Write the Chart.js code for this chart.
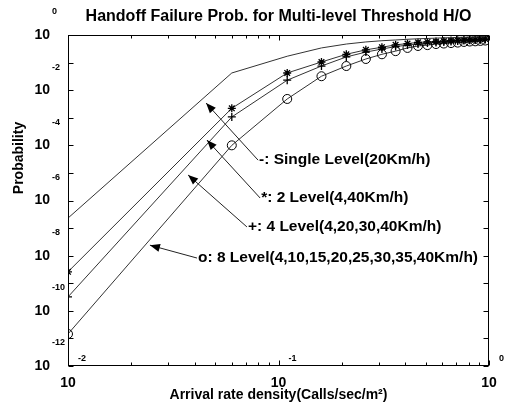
<!DOCTYPE html>
<html>
<head>
<meta charset="utf-8">
<script src="https://cdn.jsdelivr.net/npm/chart.js@4.4.0/dist/chart.umd.min.js"></script>
<style>
  html, body { margin: 0; padding: 0; background: #fff; }
</style>
</head>
<body>
<canvas id="myChart" width="506" height="407"></canvas>
<script>
// arrival rate density (Calls/sec/m^2), same samples for every curve
var arrivalRates = [0.01, 0.06, 0.11, 0.16, 0.21, 0.26, 0.31, 0.36, 0.41, 0.46,
  0.51, 0.56, 0.61, 0.66, 0.71, 0.76, 0.81, 0.86, 0.91, 0.96];

// handoff failure probability
var singleLevel = [2.3e-7, 0.042, 0.17, 0.34, 0.47, 0.56, 0.62, 0.66, 0.70, 0.73,
  0.75, 0.77, 0.79, 0.80, 0.82, 0.83, 0.84, 0.85, 0.86, 0.87];
var twoLevel = [2.6e-9, 2.2e-3, 0.042, 0.105, 0.20, 0.29, 0.36, 0.44, 0.49, 0.54,
  0.56, 0.58, 0.60, 0.63, 0.64, 0.66, 0.67, 0.69, 0.70, 0.72];
var fourLevel = [3.2e-10, 1.07e-3, 0.023, 0.075, 0.16, 0.24, 0.31, 0.38, 0.43, 0.47,
  0.51, 0.54, 0.56, 0.58, 0.61, 0.63, 0.64, 0.66, 0.67, 0.69];
var eightLevel = [1.45e-11, 1.0e-4, 4.8e-3, 0.032, 0.075, 0.135, 0.20, 0.26, 0.34, 0.40,
  0.43, 0.47, 0.49, 0.51, 0.53, 0.56, 0.58, 0.59, 0.61, 0.63];

var seriesNames = [
  "-: Single Level(20Km/h)",
  "*: 2 Level(4,40Km/h)",
  "+: 4 Level(4,20,30,40Km/h)",
  "o: 8 Level(4,10,15,20,25,30,35,40Km/h)"
];
var chartTitle = "Handoff Failure Prob. for Multi-level Threshold H/O";

// tick values and their exponent labels
var yTicks = [1e-12, 1e-10, 1e-8, 1e-6, 1e-4, 1e-2, 1];
var yTickExps = ["-12", "-10", "-8", "-6", "-4", "-2", "0"];
var xTicks = [0.01, 0.1, 1];
var xTickExps = ["-2", "-1", "0"];

// callouts: arrow tip and text anchor, in data units
var calloutTips = [[0.0453, 3.4e-3], [0.0457, 1.56e-4], [0.0372, 8.4e-6], [0.0245, 2.4e-8]];
var calloutTexts = [[0.080, 2.9e-5], [0.0818, 1.23e-6], [0.0708, 1.1e-7], [0.041, 8.2e-9]];

var fontFamily = "'Liberation Sans', Arial, Helvetica, sans-serif";
Chart.defaults.font.family = fontFamily;
Chart.defaults.color = "#000";

function makePoints(values) {
  return arrivalRates.map(function (x, i) {
    return { x: x, y: values[i] };
  });
}

var framePlugin = {
  id: "frame",
  afterDraw: function (chart) {
    var c = chart.ctx;
    var a = chart.chartArea;
    var xs = chart.scales.x;
    var ys = chart.scales.y;
    var L = Math.round(a.left) + 0.5, R = Math.round(a.right) - 0.5;
    var T = Math.round(a.top) + 0.5, B = Math.round(a.bottom) - 0.5;
    c.save();
    c.strokeStyle = "#000";
    c.lineWidth = 1;
    c.strokeRect(L, T, R - L, B - T);

    // inner tick marks
    c.beginPath();
    for (var e = -12; e <= 0; e++) {
      var py = Math.round(ys.getPixelForValue(Math.pow(10, e))) + 0.5;
      c.moveTo(L, py); c.lineTo(L + 5, py);
      c.moveTo(R, py); c.lineTo(R - 5, py);
    }
    for (var d = -2; d <= 0; d++) {
      for (var m = 1; m <= 9; m++) {
        var v = m * Math.pow(10, d);
        if (v > 1) break;
        var px = Math.round(xs.getPixelForValue(v)) + 0.5;
        var len = m === 1 ? 5 : 3;
        c.moveTo(px, B); c.lineTo(px, B - len);
        c.moveTo(px, T); c.lineTo(px, T + len);
      }
    }
    c.stroke();

    c.fillStyle = "#000";
    c.textBaseline = "middle";

    // title, centred over the plot box
    c.textAlign = "center";
    c.font = "bold 16px " + fontFamily;
    c.fillText(chartTitle, (a.left + a.right) / 2, 17);

    // exponents of the "10" tick labels
    c.font = "bold 9px " + fontFamily;
    c.textAlign = "left";
    yTicks.forEach(function (v, i) {
      var y = Math.max(6, ys.getPixelForValue(v) - 23);
      c.fillText(yTickExps[i], a.left - 16, y);
    });
    xTicks.forEach(function (v, i) {
      c.fillText(xTickExps[i], xs.getPixelForValue(v) + 10, a.bottom - 7);
    });

    // y axis title
    c.save();
    c.translate(19, 158);
    c.rotate(-Math.PI / 2);
    c.textAlign = "center";
    c.font = "bold 14px " + fontFamily;
    c.fillText("Probability", 0, 0);
    c.restore();

    // callouts with arrows
    c.font = "bold 15.5px " + fontFamily;
    c.textAlign = "left";
    c.strokeStyle = "#222";
    seriesNames.forEach(function (name, i) {
      var tx = xs.getPixelForValue(calloutTexts[i][0]);
      var ty = ys.getPixelForValue(calloutTexts[i][1]);
      var hx = xs.getPixelForValue(calloutTips[i][0]);
      var hy = ys.getPixelForValue(calloutTips[i][1]);
      c.beginPath();
      c.moveTo(tx, ty);
      c.lineTo(hx, hy);
      c.stroke();
      var ang = Math.atan2(hy - ty, hx - tx);
      c.beginPath();
      c.moveTo(hx, hy);
      c.lineTo(hx - 10 * Math.cos(ang) + 4 * Math.sin(ang), hy - 10 * Math.sin(ang) - 4 * Math.cos(ang));
      c.lineTo(hx - 10 * Math.cos(ang) - 4 * Math.sin(ang), hy - 10 * Math.sin(ang) + 4 * Math.cos(ang));
      c.closePath();
      c.fill();
      c.fillText(name, tx + 1, ty);
    });
    c.restore();
  }
};

const ctx = document.getElementById("myChart");

new Chart(ctx, {
  type: "line",
  data: {
    datasets: [
      {
        label: seriesNames[0],
        data: makePoints(singleLevel),
        borderColor: "#333",
        borderWidth: 1,
        pointRadius: 0
      },
      {
        label: seriesNames[1],
        data: makePoints(twoLevel),
        borderColor: "#333",
        borderWidth: 1,
        pointStyle: "star",
        pointRadius: 4,
        pointBorderColor: "#000",
        pointBorderWidth: 1.3
      },
      {
        label: seriesNames[2],
        data: makePoints(fourLevel),
        borderColor: "#333",
        borderWidth: 1,
        pointStyle: "cross",
        pointRadius: 4,
        pointBorderColor: "#000",
        pointBorderWidth: 1.3
      },
      {
        label: seriesNames[3],
        data: makePoints(eightLevel),
        borderColor: "#333",
        borderWidth: 1,
        pointStyle: "circle",
        pointRadius: 4.5,
        pointBackgroundColor: "rgba(0,0,0,0)",
        pointBorderColor: "#000",
        pointBorderWidth: 1
      }
    ]
  },
  options: {
    responsive: false,
    animation: false,
    layout: { padding: { left: 0, right: 17, top: 35, bottom: 0 } },
    plugins: {
      legend: { display: false },
      tooltip: { enabled: false },
      title: { display: false }
    },
    scales: {
      x: {
        type: "logarithmic",
        min: 0.01,
        max: 1,
        grid: { display: false, drawTicks: false },
        border: { display: false },
        afterBuildTicks: function (scale) {
          scale.ticks = xTicks.map(function (v) { return { value: v }; });
        },
        afterFit: function (scale) { scale.height = 41; },
        ticks: {
          autoSkip: false,
          maxRotation: 0,
          padding: 9,
          color: "#000",
          font: { size: 14, weight: "bold" },
          callback: function () { return "10"; }
        },
        title: {
          display: true,
          text: "Arrival rate density(Calls/sec/m²)",
          color: "#000",
          font: { size: 14, weight: "bold" },
          padding: { top: 0, bottom: 3 }
        }
      },
      y: {
        type: "logarithmic",
        min: 1e-12,
        max: 1,
        grid: { display: false, drawTicks: false },
        border: { display: false },
        afterBuildTicks: function (scale) {
          scale.ticks = yTicks.map(function (v) { return { value: v }; });
        },
        afterFit: function (scale) { scale.width = 68; },
        ticks: {
          autoSkip: false,
          padding: 18,
          color: "#000",
          font: { size: 14, weight: "bold" },
          callback: function () { return "10"; }
        }
      }
    }
  },
  plugins: [framePlugin]
});
</script>
</body>
</html>
